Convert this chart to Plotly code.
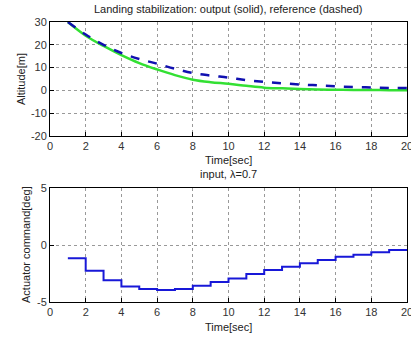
import plotly.graph_objects as go

t = list(range(1, 21))
reference = [30, 24.5, 20, 16.4, 13.8, 11.7, 9.5, 7.6, 6.5, 5.6, 4.5, 3.7, 3.1, 2.6, 2.2, 1.8, 1.5, 1.3, 1.1, 1.0]
output = [30, 24, 19.5, 15.5, 12, 9.2, 6.7, 4.7, 3.6, 2.9, 2.0, 1.2, 0.9, 0.6, 0.4, 0.3, 0.2, 0.2, 0.1, 0.1]
command = [-1.17, -2.25, -3.1, -3.65, -3.86, -3.95, -3.85, -3.57, -3.25, -2.93, -2.55, -2.2, -1.9, -1.6, -1.32, -1.02, -0.85, -0.64, -0.44, -0.44]
xticks = list(range(0, 21, 2))
yticks_top = [-20, -10, 0, 10, 20, 30]
yticks_bottom = [-5, 0, 5]

fig = go.Figure()
fig.add_trace(go.Scatter(x=t, y=output, mode="lines", line=dict(color="#33e033", width=2.5, shape="spline"), xaxis="x", yaxis="y"))
fig.add_trace(go.Scatter(x=t, y=reference, mode="lines", line=dict(color="#1010b0", width=2.5, dash="dash", shape="spline"), xaxis="x", yaxis="y"))
fig.add_trace(go.Scatter(x=t, y=command, mode="lines", line=dict(color="#1818d8", width=2, shape="hv"), xaxis="x2", yaxis="y2"))

font = dict(family="Liberation Sans, Arial", size=11, color="#222")
axcommon = dict(showline=True, linecolor="black", linewidth=1, mirror=True, ticks="inside", ticklen=4,
                tickcolor="black", showgrid=True, gridcolor="#999", griddash="dot", gridwidth=1,
                zeroline=False, automargin=False, ticklabeloverflow="allow",
                tickfont=dict(family="Liberation Sans, Arial", size=11, color="#333"))
xd = [50/411, 407/411]


def ann(text, x, y, angle=0):
    return dict(text=text, x=x/411, y=1-y/338, xref="paper", yref="paper", showarrow=False,
                xanchor="center", yanchor="middle", textangle=angle, font=font)


fig.update_layout(
    width=411, height=338, margin=dict(l=0, r=0, t=0, b=0, autoexpand=False), showlegend=False,
    plot_bgcolor="white", paper_bgcolor="white", font=font,
    xaxis=dict(domain=xd, range=[0, 20], tickvals=xticks, anchor="y", **axcommon),
    yaxis=dict(domain=[1-136/338, 1-22/338], range=[-20, 30], tickvals=yticks_top,
               ticktext=[str(v) for v in yticks_top], anchor="x", **axcommon),
    xaxis2=dict(domain=xd, range=[0, 20], tickvals=xticks, anchor="y2", **axcommon),
    yaxis2=dict(domain=[1-302/338, 1-188/338], range=[-5, 5], tickvals=yticks_bottom,
                ticktext=[str(v) for v in yticks_bottom], anchor="x2", **axcommon),
    annotations=[
        ann("Landing stabilization: output (solid), reference (dashed)", 228, 9),
        ann("Time[sec]", 228, 160),
        ann("input, λ=0.7", 228, 174),
        ann("Time[sec]", 228, 327),
        ann("Altitude[m]", 21, 79, -90),
        ann("Actuator command[deg]", 26, 245, -90),
    ],
)
fig.write_html("out.html", config={"displayModeBar": False},
               post_script="document.body.style.margin='0px';document.body.style.overflow='hidden';")
